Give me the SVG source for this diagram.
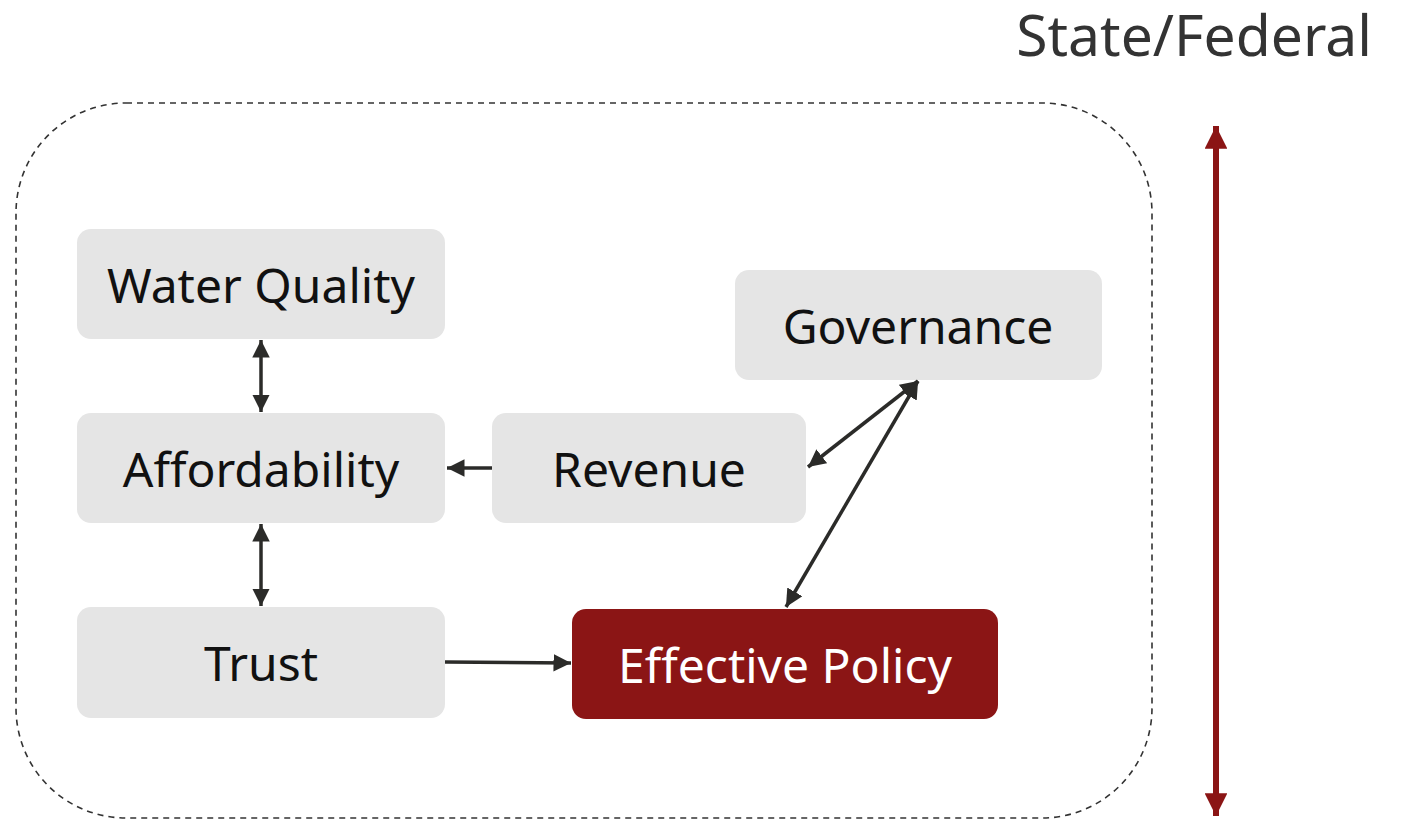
<svg xmlns="http://www.w3.org/2000/svg" width="1402" height="821" viewBox="0 0 1402 821">
<defs>
<style>
.node rect{fill:#e5e5e5}
.lbl{font-family:"Noto Sans","Open Sans",sans-serif;font-size:48px;fill:#111;text-anchor:middle}
.conn line{stroke:#2b2b29;stroke-width:3.5;fill:none}
</style>
<marker id="ah" viewBox="0 0 10 10" refX="10" refY="5" markerWidth="5" markerHeight="5" orient="auto-start-reverse" markerUnits="strokeWidth">
<path d="M0,0 L10,5 L0,10 z" fill="#2b2b29"/>
</marker>
<marker id="ahr" viewBox="0 0 10 10" refX="10" refY="5" markerWidth="3.8" markerHeight="3.8" orient="auto-start-reverse" markerUnits="strokeWidth">
<path d="M0,0 L10,5 L0,10 z" fill="#8b1515"/>
</marker>
</defs>
<rect width="1402" height="821" fill="#fff"/>
<g id="boundary">
<rect x="16" y="103" width="1136" height="715" rx="110" ry="110" fill="none" stroke="#333" stroke-width="1.6" stroke-dasharray="6,5"/>
</g>
<g id="scale">
<text x="1372" y="56" font-family="Noto Sans,Open Sans,sans-serif" font-size="57" fill="#333" text-anchor="end">State/Federal</text>
<line x1="1216" y1="126" x2="1216" y2="816" stroke="#8b1515" stroke-width="6" marker-start="url(#ahr)" marker-end="url(#ahr)"/>
</g>
<g id="n-water" class="node"><rect x="77" y="229" width="368" height="110" rx="14"/><text class="lbl" x="261" y="303">Water Quality</text></g>
<g id="n-afford" class="node"><rect x="77" y="413" width="368" height="110" rx="14"/><text class="lbl" x="261" y="487">Affordability</text></g>
<g id="n-trust" class="node"><rect x="77" y="607" width="368" height="111" rx="14"/><text class="lbl" x="261" y="681">Trust</text></g>
<g id="n-revenue" class="node"><rect x="492" y="413" width="314" height="110" rx="14"/><text class="lbl" x="649" y="487">Revenue</text></g>
<g id="n-gov" class="node"><rect x="735" y="270" width="367" height="110" rx="14"/><text class="lbl" x="918" y="344">Governance</text></g>
<g id="n-policy"><rect x="572" y="609" width="426" height="110" rx="14" fill="#8b1515"/><text class="lbl" x="785" y="683" style="fill:#fff">Effective Policy</text></g>
<g id="connectors" class="conn">
<line x1="261" y1="340" x2="261" y2="412" marker-start="url(#ah)" marker-end="url(#ah)"/>
<line x1="261" y1="524" x2="261" y2="606" marker-start="url(#ah)" marker-end="url(#ah)"/>
<line x1="492" y1="468" x2="447" y2="468" marker-end="url(#ah)"/>
<line x1="445" y1="662" x2="571" y2="663" marker-end="url(#ah)"/>
<line x1="918" y1="381" x2="808" y2="467" marker-start="url(#ah)" marker-end="url(#ah)"/>
<line x1="918" y1="381" x2="786" y2="607" marker-start="url(#ah)" marker-end="url(#ah)"/>
</g>
</svg>
